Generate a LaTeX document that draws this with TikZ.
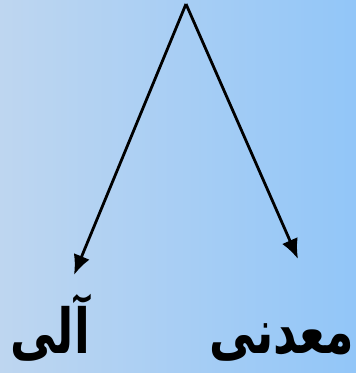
\documentclass[tikz,border=0pt]{standalone}
\usepackage{fontspec}
\usepackage{graphicx}
\usetikzlibrary{arrows.meta,positioning}
\TeXXeTstate=1
\newfontfamily\arabicfont[Script=Arabic]{DejaVu Sans}
\definecolor{bgLeft}{RGB}{190,214,240}
\definecolor{bgRight}{RGB}{146,198,248}
\newcommand{\labelfont}{\fontsize{46}{52}\selectfont\arabicfont\bfseries}
\newcommand{\tallword}[1]{\scalebox{1}[1.35]{\beginR #1\endR}}

\begin{document}
\begin{tikzpicture}[x=1pt, y=-1pt,
        lbl/.style={inner sep=0pt, anchor=base, font=\labelfont},
        arr/.style={-{Latex[length=20pt, width=17pt]}, line width=2.8pt, black},
      ]
      % background
      \shade[left color=bgLeft, right color=bgRight] (0,0) rectangle (356,373);
      \useasboundingbox (0,0) rectangle (356,373);

      \coordinate (top) at (186,4);
      \coordinate (lend) at (74,275);
      \coordinate (rend) at (298,259);

      \node[lbl] (organic) at (50,353) {\tallword{آلی}};
      \node[lbl] (mineral) at (282,353) {\tallword{معدنی}};

      \draw[arr] (top) -- (lend);
      \draw[arr] (top) -- (rend);
    \end{tikzpicture}
\end{document}
